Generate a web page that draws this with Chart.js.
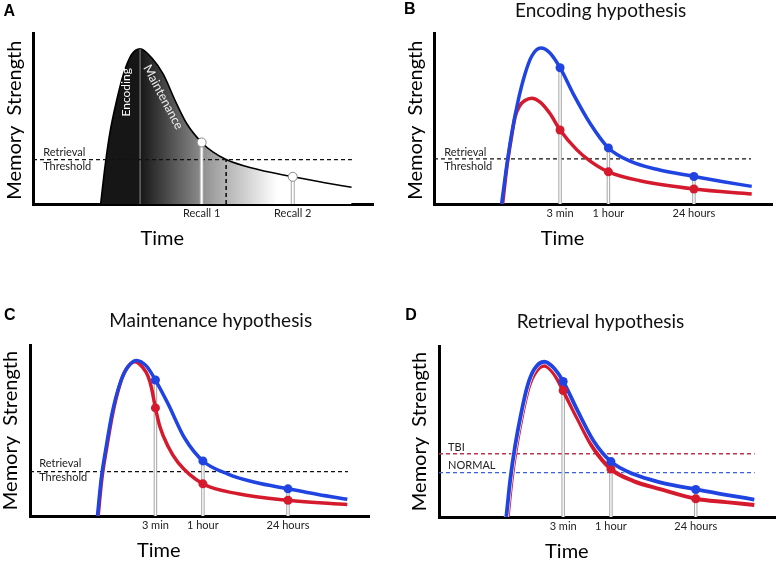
<!DOCTYPE html>
<html>
<head>
<meta charset="utf-8">
<script src="https://cdn.jsdelivr.net/npm/chart.js@4"></script>
<style>
  body { margin: 0; background: #fff; width: 780px; height: 563px; position: relative; overflow: hidden; }
  canvas { position: absolute; }
</style>
</head>
<body>
<canvas id="panelA" width="390" height="263" style="left:0;top:0"></canvas>
<canvas id="panelB" width="390" height="263" style="left:390px;top:0"></canvas>
<canvas id="panelC" width="390" height="283" style="left:0;top:280px"></canvas>
<canvas id="panelD" width="390" height="283" style="left:390px;top:280px"></canvas>
<script>
// time axis 0..100, strength axis 0..100 (per panel)
const recallLabels = ['Recall 1', 'Recall 2'];
const timeLabels = ['3 min', '1 hour', '24 hours'];

// A: generic memory curve
const curveA = [[19.9, 0], [21.2, 22.2], [22.6, 41.4], [24.6, 60.5], [26.6, 75.9], [29.0, 87.4], [31.5, 90.8],
    [34.9, 85.5], [38.3, 75.9], [41.8, 60.5], [45.2, 47.1], [49.6, 36.0], [53.0, 30.3], [56.8, 26.0],
    [63.8, 21.3], [76.4, 15.9], [85.4, 12.6], [93.7, 9.8]];
const recallTimesA = [49.6, 76.4];
const recallStrengthA = [36.0, 15.9];
const thresholdA = 26.0;
const crossingA = 56.8;
const peakA = 31.5;
const peakStrengthA = 90.8;

// B: encoding hypothesis
const blueB = [[20.0, 0], [21.5, 22.2], [23.0, 41.4], [24.9, 60.5], [26.9, 75.9], [28.9, 86.4], [31.6, 91.2],
    [34.3, 88.3], [37.3, 79.7], [41.2, 64.4], [46.2, 47.1], [51.6, 32.8], [58.0, 25.1], [65.9, 20.3],
    [76.9, 16.1], [85.6, 13.0], [94.0, 10.3]];
const redB = [[20.3, 0], [21.6, 22.2], [23.0, 40.0], [24.0, 51.0], [25.4, 57.6], [26.9, 60.5], [28.9, 61.9],
    [31.4, 59.6], [34.3, 52.9], [37.3, 43.3], [42.2, 31.8], [46.2, 25.1], [51.6, 18.8], [60.9, 13.6],
    [76.9, 8.8], [94.0, 5.9]];
const timesB = [37.3, 51.6, 76.9];
const blueMarksB = [79.7, 32.8, 16.1];
const redMarksB = [43.3, 18.8, 8.8];
const thresholdB = 26.4;

// C: maintenance hypothesis
const blueC = [[19.9, 0], [21.0, 21.7], [22.5, 40.8], [24.2, 59.9], [26.5, 77.2], [28.4, 85.8], [31.4, 91.0],
    [34.3, 87.8], [37.0, 79.5], [40.7, 65.7], [45.6, 45.6], [51.0, 32.2], [58.4, 24.5], [66.3, 19.7],
    [76.1, 15.9], [85.0, 12.6], [93.6, 9.8]];
const redC = [[20.1, 0], [21.2, 21.7], [22.7, 40.8], [24.4, 59.9], [26.5, 76.8], [28.3, 85.6], [30.9, 90.2],
    [33.3, 86.8], [34.8, 81.8], [35.8, 75.3], [37.0, 63.2], [38.3, 52.3], [40.7, 40.8], [43.7, 31.2],
    [51.0, 18.8], [61.4, 13.0], [76.1, 9.2], [93.6, 6.7]];
const timesC = [37.0, 51.0, 76.1];
const blueMarksC = [79.5, 32.2, 15.9];
const redMarksC = [63.2, 18.8, 9.2];
const thresholdC = 26.0;

// D: retrieval hypothesis
const blueD = [[20.0, 0], [21.2, 22.2], [22.6, 41.4], [24.4, 60.5], [26.3, 76.8], [28.3, 86.4], [31.3, 90.8],
    [34.2, 87.0], [36.9, 79.3], [41.1, 62.5], [46.0, 44.3], [51.1, 32.4], [57.8, 25.1], [65.7, 20.3],
    [76.3, 16.1], [85.3, 13.0], [93.7, 10.2]];
const redD = [[20.4, 0], [21.6, 22.2], [23.0, 41.4], [24.8, 60.5], [26.7, 76.2], [28.7, 84.8], [31.3, 88.5],
    [34.2, 83.8], [36.9, 74.0], [41.1, 57.8], [46.0, 39.8], [51.1, 28.0], [57.8, 21.0], [65.7, 16.3],
    [76.3, 10.7], [85.3, 8.7], [93.7, 7.0]];
const timesD = [36.9, 51.1, 76.3];
const blueMarksD = [79.3, 32.4, 16.1];
const redMarksD = [74.0, 28.0, 10.7];
const thresholdTBI = 37.0;
const thresholdNormal = 26.0;

const thresholdEnd = 93.8;
const FONT = 'Lato, "Open Sans", sans-serif';
const blueColor = '#1f44e2';
const redColor = '#d51a2e';

function curve(points, color, width, order) {
    return {
        data: points.map(([x, y]) => ({x, y})),
        borderColor: color,
        borderWidth: width,
        pointRadius: 0,
        cubicInterpolationMode: 'monotone',
        fill: false,
        order,
    };
}

function segment(x0, y0, x1, y1, color, width, order, dash) {
    return {
        data: [{x: x0, y: y0}, {x: x1, y: y1}],
        borderColor: color,
        borderWidth: width,
        borderDash: dash || [],
        pointRadius: 0,
        fill: false,
        order,
    };
}

// double grey line from the axis up to the recall point
function stems(times, tops, outer, inner, order) {
    const sets = [];
    times.forEach((t, i) => {
        sets.push(segment(t, 0, t, tops[i], '#a8a8a8', outer, order));
        sets.push(segment(t, 0, t, tops[i], '#ffffff', inner, order - 0.5));
    });
    return sets;
}

function dots(times, values, color, order, border) {
    return {
        data: times.map((t, i) => ({x: t, y: values[i]})),
        showLine: false,
        pointRadius: 4.5,
        pointBackgroundColor: color,
        pointBorderColor: border || color,
        pointBorderWidth: border ? 1 : 0,
        order,
    };
}

function notesPlugin(notes) {
    return {
        id: 'notes',
        afterDraw(chart) {
            const {ctx, scales: {x, y}} = chart;
            for (const n of notes) {
                ctx.save();
                ctx.translate(x.getPixelForValue(n.x), y.getPixelForValue(n.y));
                ctx.rotate((n.rotation || 0) * Math.PI / 180);
                ctx.font = n.font || `11px ${FONT}`;
                ctx.fillStyle = n.color || '#222';
                ctx.textAlign = n.align || 'center';
                ctx.textBaseline = 'middle';
                ctx.fillText(n.text, 0, 0);
                ctx.restore();
            }
        }
    };
}

function commonNotes(letter, letterPos, title, titlePos, yLabelX, yLabelY) {
    const notes = [
        {text: letter, x: letterPos[0], y: letterPos[1], font: 'bold 16px "Liberation Sans", Arial, sans-serif', color: '#000'},
        {text: 'Memory  Strength', x: yLabelX, y: yLabelY, rotation: -90, font: `20px ${FONT}`, color: '#000'},
        {text: 'Time', x: 38, y: -20.1, font: `20px ${FONT}`, color: '#000'},
    ];
    if (title) {
        notes.push({text: title, x: titlePos[0], y: titlePos[1], font: `19px ${FONT}`, color: '#111'});
    }
    return notes;
}

function drawPanel(id, padding, datasets, tickValues, tickLabels, notes) {
    const ctx = document.getElementById(id).getContext('2d');
    return new Chart(ctx, {
        type: 'line',
        data: {datasets},
        options: {
            responsive: false,
            animation: false,
            layout: {padding},
            plugins: {
                legend: {display: false},
                tooltip: {enabled: false},
            },
            scales: {
                x: {
                    type: 'linear',
                    min: 0,
                    max: 100,
                    grid: {display: false, drawTicks: false},
                    border: {color: '#000', width: 3},
                    afterBuildTicks: (scale) => {
                        scale.ticks = tickValues.map((v) => ({value: v}));
                    },
                    ticks: {
                        autoSkip: false,
                        maxRotation: 0,
                        padding: 3,
                        color: '#222',
                        font: {family: FONT, size: 11},
                        callback: (value, index) => tickLabels[index],
                    },
                },
                y: {
                    min: 0,
                    max: 100,
                    grid: {display: false, drawTicks: false},
                    border: {color: '#000', width: 3},
                    ticks: {display: false},
                },
            },
        },
        plugins: [notesPlugin(notes)],
    });
}

// Panel A
const fadeEndA = 71.8;
drawPanel('panelA', {left: 33, top: 33, right: 17, bottom: 39.8}, [
    {
        ...curve(curveA, '#000', 1.6, 10),
        fill: 'origin',
        backgroundColor: (context) => {
            const {ctx, chartArea, scales} = context.chart;
            if (!chartArea) {
                return '#111';
            }
            const g = ctx.createLinearGradient(scales.x.getPixelForValue(peakA), 0, scales.x.getPixelForValue(fadeEndA), 0);
            g.addColorStop(0, '#161616');
            g.addColorStop(0.5, '#9a9a9a');
            g.addColorStop(1, '#ffffff');
            return g;
        },
    },
    segment(peakA, 0, peakA, peakStrengthA, '#7a7a7a', 1.2, 9),
    segment(0, thresholdA, thresholdEnd, thresholdA, '#111', 1.3, 8, [4, 3]),
    segment(crossingA, 0, crossingA, thresholdA, '#111', 1.6, 8, [4, 3]),
    ...stems(recallTimesA, recallStrengthA, 4, 2, 7),
    dots(recallTimesA, recallStrengthA, '#ffffff', 1, '#888'),
], recallTimesA, recallLabels, [
    ...commonNotes('A', [-7.0, 112.6], null, null, -5.5, 49),
    {text: 'Retrieval', x: 3.0, y: 30.3, align: 'left'},
    {text: 'Threshold', x: 3.0, y: 22.2, align: 'left'},
    {text: 'Encoding', x: 27.4, y: 65.3, rotation: -90, font: `12px ${FONT}`, color: '#fff'},
    {text: 'Maintenance', x: 38.3, y: 62.5, rotation: 62, font: `12.5px ${FONT}`, color: '#eee'},
]);

// Panel B
drawPanel('panelB', {left: 44, top: 33, right: 8, bottom: 39.8}, [
    segment(0, thresholdB, thresholdEnd, thresholdB, '#111', 1.3, 8, [4, 3]),
    ...stems(timesB, blueMarksB, 3.5, 1.4, 7),
    curve(redB, redColor, 3.5, 5),
    curve(blueB, blueColor, 3.5, 3),
    dots(timesB, redMarksB, redColor, 2),
    dots(timesB, blueMarksB, blueColor, 1),
], timesB, timeLabels, [
    ...commonNotes('B', [-7.2, 113.5], 'Encoding hypothesis', [49.3, 113.2], -5.4, 49),
    {text: 'Retrieval', x: 3.0, y: 30.3, align: 'left'},
    {text: 'Threshold', x: 3.0, y: 22.2, align: 'left'},
]);

// Panel C
drawPanel('panelC', {left: 30, top: 65, right: 21, bottom: 27.8}, [
    segment(0, thresholdC, thresholdEnd, thresholdC, '#111', 1.3, 8, [4, 3]),
    ...stems(timesC, blueMarksC, 3.5, 1.4, 7),
    curve(redC, redColor, 3.5, 5),
    curve(blueC, blueColor, 3.5, 3),
    dots(timesC, redMarksC, redColor, 2),
    dots(timesC, blueMarksC, blueColor, 1),
], timesC, timeLabels, [
    ...commonNotes('C', [-6.0, 117.2], 'Maintenance hypothesis', [53.3, 114.1], -5.8, 50),
    {text: 'Retrieval', x: 2.7, y: 30.5, align: 'left'},
    {text: 'Threshold', x: 2.7, y: 22.4, align: 'left'},
]);

// Panel D
drawPanel('panelD', {left: 49, top: 66, right: 2, bottom: 26.8}, [
    segment(0, thresholdTBI, thresholdEnd, thresholdTBI, '#b8374f', 1.3, 8, [4, 3]),
    segment(0, thresholdNormal, thresholdEnd, thresholdNormal, '#3a5fd9', 1.3, 8, [4, 3]),
    ...stems(timesD, blueMarksD, 3.5, 1.4, 7),
    curve(redD, redColor, 4, 5),
    curve(blueD, '#ffffff', 5, 4),
    curve(blueD, blueColor, 3.8, 3),
    dots(timesD, redMarksD, redColor, 2),
    dots(timesD, blueMarksD, blueColor, 1),
], timesD, timeLabels, [
    ...commonNotes('D', [-8.3, 117.5], 'Retrieval hypothesis', [48.0, 114.4], -5.9, 50),
    {text: 'TBI', x: 2.7, y: 40.6, align: 'left'},
    {text: 'NORMAL', x: 2.7, y: 30.1, align: 'left'},
]);
</script>
</body>
</html>
